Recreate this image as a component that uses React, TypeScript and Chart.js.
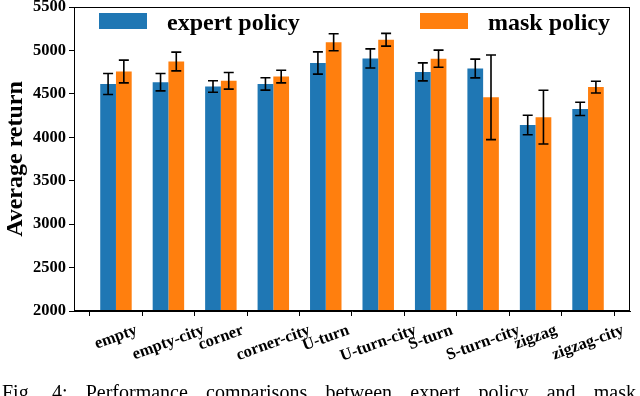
import React, { useEffect, useRef } from "react";
import { Chart, registerables } from "chart.js";

Chart.register(...registerables);

const categories = [
  "empty",
  "empty-city",
  "corner",
  "corner-city",
  "U-turn",
  "U-turn-city",
  "S-turn",
  "S-turn-city",
  "zigzag",
  "zigzag-city",
];
const seriesNames = ["expert policy", "mask policy"];
const expertMeans = [4614, 4634, 4585, 4614, 4855, 4908, 4753, 4792, 4142, 4327];
const expertErr = [121, 100, 66, 71, 128, 110, 104, 108, 112, 77];
const maskMeans = [4757, 4873, 4650, 4699, 5094, 5123, 4905, 4460, 4232, 4578];
const maskErr = [131, 108, 96, 73, 98, 73, 98, 487, 310, 68];
const yTicks = [2000, 2500, 3000, 3500, 4000, 4500, 5000, 5500];
const yTitle = "Average return";
const caption = "Fig. 4: Performance comparisons between expert policy and mask";

const FONT = "'Liberation Serif', 'Times New Roman', serif";
const BLUE = "#1f77b4";
const ORANGE = "#ff7f0e";

const errorBarPlugin = {
  id: "errorBars",
  afterDatasetsDraw(chart: any) {
    const ctx = chart.ctx;
    const yScale = chart.scales.y;
    const errs = [expertErr, maskErr];
    const means = [expertMeans, maskMeans];
    ctx.save();
    ctx.strokeStyle = "#000";
    ctx.lineWidth = 1.6;
    chart.data.datasets.forEach((_: any, di: number) => {
      const meta = chart.getDatasetMeta(di);
      meta.data.forEach((el: any, i: number) => {
        const x = el.x;
        const yTop = yScale.getPixelForValue(means[di][i] + errs[di][i]);
        const yBot = yScale.getPixelForValue(means[di][i] - errs[di][i]);
        const cap = 5;
        ctx.beginPath();
        ctx.moveTo(x, yTop);
        ctx.lineTo(x, yBot);
        ctx.moveTo(x - cap, yTop);
        ctx.lineTo(x + cap, yTop);
        ctx.moveTo(x - cap, yBot);
        ctx.lineTo(x + cap, yBot);
        ctx.stroke();
      });
    });
    ctx.restore();
  },
};

const framePlugin = {
  id: "frameAndLabels",
  afterDraw(chart: any) {
    const ctx = chart.ctx;
    const a = chart.chartArea;
    ctx.save();
    // frame
    ctx.strokeStyle = "#000";
    ctx.lineWidth = 1;
    ctx.strokeRect(a.left + 0.5, a.top + 0.5, a.right - a.left - 1, a.bottom - a.top - 1);

    // rotated x labels, centered on ticks
    const xScale = chart.scales.x;
    const ang = (20 * Math.PI) / 180;
    const fs = 16.5;
    ctx.font = `bold ${fs}px ${FONT}`;
    ctx.fillStyle = "#000";
    ctx.textAlign = "center";
    ctx.textBaseline = "middle";
    categories.forEach((lab, i) => {
      const x = xScale.getPixelForValue(i);
      const w = ctx.measureText(lab).width;
      const H = w * Math.sin(ang) + fs * Math.cos(ang);
      const cy = a.bottom + 11 + H / 2;
      ctx.save();
      ctx.translate(x, cy);
      ctx.rotate(-ang);
      ctx.fillText(lab, 0, 0);
      ctx.restore();
    });

    // legend inside plot area
    const colors = [BLUE, ORANGE];
    const boxX = [a.left + 25, a.left + 346];
    ctx.font = `bold 24px ${FONT}`;
    ctx.textAlign = "left";
    ctx.textBaseline = "alphabetic";
    chart.data.datasets.forEach((ds: any, di: number) => {
      const bx = boxX[di];
      const by = a.top + 6;
      ctx.fillStyle = colors[di];
      ctx.fillRect(bx, by, 48, 16);
      ctx.fillStyle = "#000";
      ctx.fillText(ds.label, bx + 68, by + 8 + 8.5);
    });
    ctx.restore();
  },
};

export default function App() {
  const ref = useRef<HTMLCanvasElement | null>(null);

  useEffect(() => {
    document.body.style.margin = "0";
    if (!ref.current) return;
    const chart = new Chart(ref.current, {
      type: "bar",
      data: {
        datasets: [
          {
            label: seriesNames[0],
            data: expertMeans.map((v, i) => ({ x: i, y: v })),
            backgroundColor: BLUE,
            borderWidth: 0,
          },
          {
            label: seriesNames[1],
            data: maskMeans.map((v, i) => ({ x: i, y: v })),
            backgroundColor: ORANGE,
            borderWidth: 0,
          },
        ],
      },
      options: {
        animation: false,
        responsive: false,
        devicePixelRatio: 1,
        datasets: { bar: { categoryPercentage: 0.6, barPercentage: 1.0 } },
        layout: { padding: { left: 0, right: 10, top: 7, bottom: 0 } },
        plugins: {
          legend: { display: false },
          tooltip: { enabled: false },
        },
        scales: {
          x: {
            type: "linear",
            min: -0.8,
            max: 9.8,
            offset: false,
            afterBuildTicks: (s: any) => {
              s.ticks = categories.map((_, i) => ({ value: i }));
            },
            ticks: { display: false },
            grid: {
              display: true,
              drawOnChartArea: false,
              drawTicks: true,
              tickLength: 5,
              color: "#000",
              tickColor: "#000",
            },
            border: { display: true, color: "#000", width: 1 },
            afterFit: (s: any) => {
              s.height = 85;
              s.paddingLeft = 0;
              s.paddingRight = 0;
            },
          },
          y: {
            type: "linear",
            min: 2000,
            max: 5500,
            afterBuildTicks: (s: any) => {
              s.ticks = yTicks.map((v) => ({ value: v }));
            },
            ticks: {
              font: { family: FONT, size: 16.5, weight: "bold" },
              color: "#000",
              padding: 3,
              autoSkip: false,
              callback: (v: any) => String(v),
            },
            grid: {
              display: true,
              drawOnChartArea: false,
              drawTicks: true,
              tickLength: 5,
              color: "#000",
              tickColor: "#000",
            },
            border: { display: true, color: "#000", width: 1 },
            title: {
              display: true,
              text: yTitle,
              font: { family: FONT, size: 24, weight: "bold" },
              color: "#000",
              padding: { top: 1, bottom: 0 },
            },
            afterFit: (s: any) => {
              s.width = 74;
              s.paddingTop = 0;
              s.paddingBottom = 0;
            },
          },
        },
      },
      plugins: [errorBarPlugin, framePlugin],
    } as any);
    return () => chart.destroy();
  }, []);

  return (
    <div style={{ position: "relative", width: 640, height: 396, overflow: "hidden", background: "#fff" }}>
      <canvas ref={ref} width={640} height={396} style={{ position: "absolute", left: 0, top: 0 }} />
      <div
        style={{
          position: "absolute",
          left: 2,
          top: 380,
          width: 634,
          fontFamily: FONT,
          fontSize: 20,
          lineHeight: "24px",
          textAlign: "justify",
          textAlignLast: "justify",
          whiteSpace: "nowrap",
          color: "#000",
        }}
      >
        {caption}
      </div>
    </div>
  );
}
